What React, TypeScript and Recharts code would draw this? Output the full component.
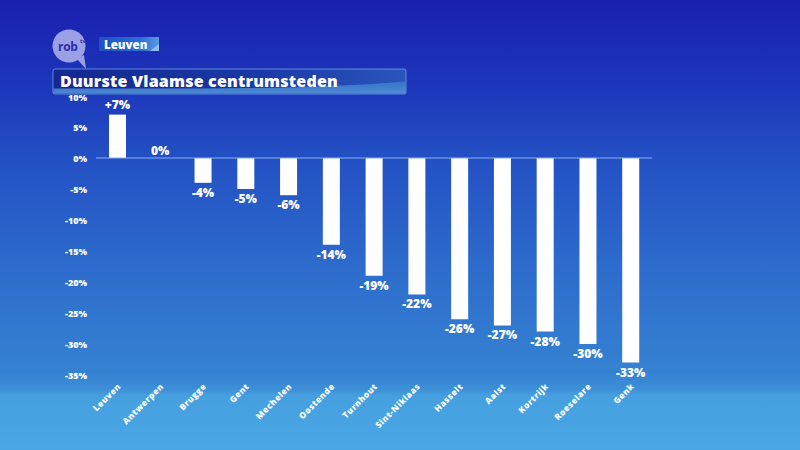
import React from "react";
import { BarChart, Bar, XAxis, YAxis, ReferenceLine, ReferenceDot, LabelList } from "recharts";

const cities = ["Leuven", "Antwerpen", "Brugge", "Gent", "Mechelen", "Oostende", "Turnhout", "Sint-Niklaas", "Hasselt", "Aalst", "Kortrijk", "Roeselare", "Genk"];
const changes = [7, 0, -4, -5, -6, -14, -19, -22, -26, -27, -28, -30, -33];
const yTicks = [10, 5, 0, -5, -10, -15, -20, -25, -30, -35];

const data = cities.map((c, i) => ({ city: c, value: changes[i] }));

const FONT = "'Open Sans', Lato, sans-serif";

const fmtLabel = (v: number) => (v > 0 ? `+${v}%` : `${v}%`);

const XTick = (props: any) => {
  const { x, y, payload } = props;
  return (
    <text
      x={x + 4}
      y={y + 4}
      textAnchor="end"
      transform={`rotate(-45, ${x + 4}, ${y + 4})`}
      fill="#ffffff"
      fontSize={8.5}
      fontWeight={800}
      fontFamily={FONT}
      letterSpacing={0.5}
    >
      {payload.value}
    </text>
  );
};

const YTick = (props: any) => {
  const { x, y, payload, index } = props;
  const dy = index === 0 ? 5 : 3.5;
  return (
    <text x={x - 7} y={y + dy} textAnchor="end" fill="#ffffff" fontSize={9} fontWeight={800} fontFamily={FONT}>
      {`${payload.value}%`}
    </text>
  );
};

const BarLabel = (props: any) => {
  const { x, y, width, height, value } = props;
  const cx = x + width / 2;
  const top = Math.min(y, y + height);
  const bottom = Math.max(y, y + height);
  let ty: number;
  if (value > 0) ty = top - 6;
  else if (value === 0) ty = top - 3;
  else ty = bottom + 14;
  return (
    <text x={cx} y={ty} textAnchor="middle" fill="#ffffff" fontSize={12} fontWeight={800} fontFamily={FONT}>
      {fmtLabel(value)}
    </text>
  );
};

const ZeroLabel = (props: any) => {
  const { viewBox, value } = props;
  const cx = viewBox.x + (viewBox.width || 0) / 2;
  const cy = viewBox.y + (viewBox.height || 0) / 2;
  return (
    <text x={cx} y={cy - 3} textAnchor="middle" fill="#ffffff" fontSize={12} fontWeight={800} fontFamily={FONT}>
      {value}
    </text>
  );
};

export default function App() {
  return (
    <div
      style={{
        position: "absolute",
        left: 0,
        top: 0,
        width: 800,
        height: 450,
        overflow: "hidden",
        background:
          "linear-gradient(180deg, #1a1fae 0%, #1c35ba 18%, #2350c4 35%, #2d6ccc 60%, #3582d2 83%, #3d90d8 86.5%, #46a0e0 88%, #4aa6e4 100%)",
        fontFamily: FONT,
      }}
    >
      <svg width={800} height={450} style={{ position: "absolute", left: 0, top: 0 }}>
        <defs>
          <linearGradient id="tag" x1="0" x2="1" y1="0" y2="0">
            <stop offset="0%" stopColor="#1f4fc8" />
            <stop offset="70%" stopColor="#2a6fd4" />
            <stop offset="100%" stopColor="#5a9ae0" />
          </linearGradient>
          <linearGradient id="banner" x1="0" x2="1" y1="0" y2="0">
            <stop offset="0%" stopColor="#13278f" />
            <stop offset="60%" stopColor="#1b3aa8" />
            <stop offset="100%" stopColor="#2a56bc" />
          </linearGradient>
          <linearGradient id="bannerLow" x1="0" x2="0" y1="0" y2="1">
            <stop offset="0%" stopColor="#3a78cc" stopOpacity={0.85} />
            <stop offset="100%" stopColor="#5294d8" stopOpacity={0.9} />
          </linearGradient>
        </defs>
        <circle cx={69} cy={46} r={16.5} fill="#9b9fe6" />
        <path d="M77 59 L86 69 L84 55 Z" fill="#9b9fe6" />
        <text x={58} y={51} fill="#2a2fa8" fontSize={12} fontWeight={700} fontFamily={FONT} letterSpacing={-0.3}>
          rob
        </text>
        <text x={80} y={43} fill="#2a2fa8" fontSize={6} fontWeight={700} fontFamily={FONT}>
          tv
        </text>
        <rect x={99} y={37} width={60} height={14} fill="url(#tag)" />
        <path d="M150 51 L159 44 L159 51 Z" fill="#8fbdf0" />
        <text x={104} y={48.5} fill="#ffffff" fontSize={11.5} fontWeight={800} fontFamily={FONT}>
          Leuven
        </text>
        <rect x={53} y={69} width={353} height={25} rx={2} fill="url(#banner)" stroke="#6f9ee6" strokeWidth={0.8} />
        <path d="M53.4 88.5 L200 88.5 Q320 88.5 405.6 81.5 L405.6 93.6 L53.4 93.6 Z" fill="url(#bannerLow)" />
        <text x={60} y={86.5} fill="#ffffff" fontSize={16} fontWeight={800} fontFamily={FONT} letterSpacing={0.2}>
          Duurste Vlaamse centrumsteden
        </text>
      </svg>
      <div style={{ position: "absolute", left: 0, top: 0 }}>
        <BarChart width={800} height={450} data={data} margin={{ top: 96, right: 148, bottom: 5, left: 36 }}>
          <XAxis
            dataKey="city"
            axisLine={false}
            tickLine={false}
            interval={0}
            height={70}
            tick={<XTick />}
          />
          <YAxis
            type="number"
            domain={[-35, 10]}
            ticks={yTicks}
            axisLine={false}
            tickLine={false}
            tickSize={0}
            width={60}
            interval={0}
            tick={<YTick />}
          />
          <ReferenceLine y={0} stroke="#86aef2" strokeWidth={1.2} />
          <Bar dataKey="value" fill="#ffffff" barSize={17} isAnimationActive={false}>
            <LabelList dataKey="value" content={<BarLabel />} />
          </Bar>
          {data
            .filter((d) => d.value === 0)
            .map((d) => (
              <ReferenceDot
                key={d.city}
                x={d.city}
                y={d.value}
                r={0}
                fill="none"
                stroke="none"
                label={<ZeroLabel value={fmtLabel(d.value)} />}
              />
            ))}
        </BarChart>
      </div>
    </div>
  );
}
